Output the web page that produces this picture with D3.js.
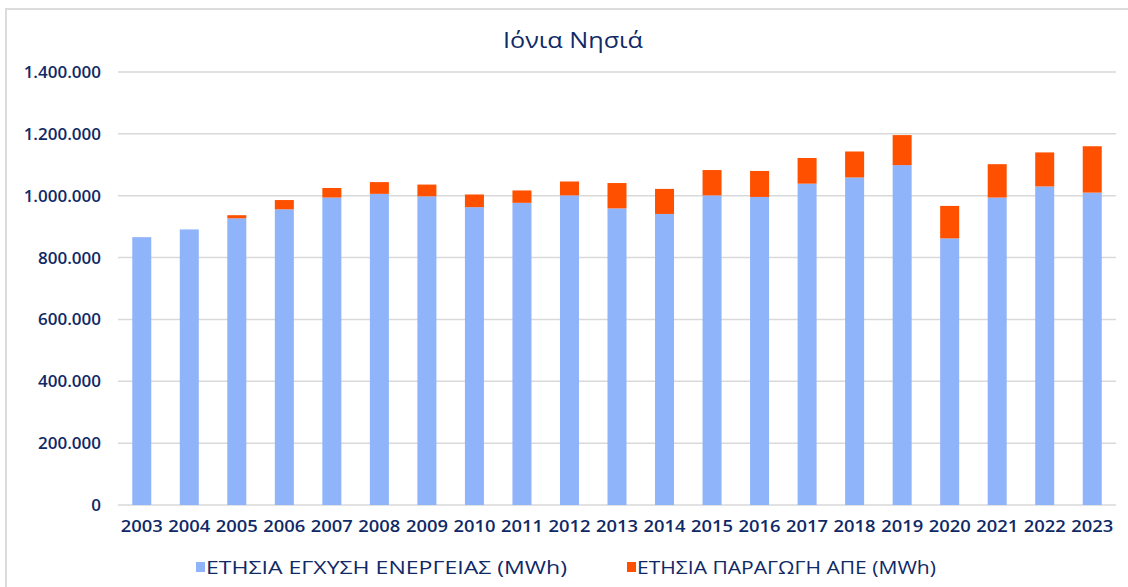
<!DOCTYPE html>
<html>
<head>
<meta charset="utf-8">
<script src="https://cdn.jsdelivr.net/npm/d3@7"></script>
<style>
  body { margin: 0; background: #fff; }
  svg { display: block; font-family: "Open Sans", "Noto Sans", sans-serif; }
</style>
</head>
<body>
<svg id="chart"></svg>
<script>
const years = ["2003","2004","2005","2006","2007","2008","2009","2010","2011","2012","2013",
  "2014","2015","2016","2017","2018","2019","2020","2021","2022","2023"];
const injection = [866000, 891000, 927000, 956000, 994000, 1006000, 998000, 963000, 977000, 1001000, 959000,
  941000, 1001000, 996000, 1039000, 1059000, 1099000, 862000, 994000, 1030000, 1010000];
const resProduction = [0, 0, 10000, 30000, 31000, 38000, 38000, 41000, 40000, 45000, 82000,
  81000, 82000, 84000, 83000, 84000, 97000, 105000, 108000, 110000, 150000];
const yTicks = [0, 200000, 400000, 600000, 800000, 1000000, 1200000, 1400000];
const seriesNames = ["ΕΤΗΣΙΑ ΕΓΧΥΣΗ ΕΝΕΡΓΕΙΑΣ (MWh)", "ΕΤΗΣΙΑ ΠΑΡΑΓΩΓΗ ΑΠΕ (MWh)"];

const width = 1128, height = 587,
  margin = {top: 72, right: 12, bottom: 82, left: 118},
  colors = ["#8fb4fa", "#ff5000"],
  textColor = "#0f2966";

const svg = d3.select("#chart").attr("width", width).attr("height", height);

// frame
svg.append("path")
  .attr("d", `M6,${height} V9 H${width}`)
  .attr("fill", "none").attr("stroke", "#dcdcdc").attr("stroke-width", 2);

const x = d3.scaleBand().domain(years)
  .range([margin.left, width - margin.right]).paddingInner(0.6).paddingOuter(0.3);
const y = d3.scaleLinear().domain([0, 1400000]).range([height - margin.bottom, margin.top]);

const fmt = v => d3.format(",")(v).replace(/,/g, ".");

// grid
svg.append("g").selectAll("line").data(yTicks).join("line")
  .attr("x1", margin.left).attr("x2", width - margin.right)
  .attr("y1", d => y(d)).attr("y2", d => y(d))
  .attr("stroke", "#d9d9d9").attr("stroke-width", 1.5);

svg.append("g").selectAll("text").data(yTicks).join("text")
  .attr("x", 101).attr("y", d => y(d)).attr("dy", "0.35em")
  .attr("text-anchor", "end").attr("fill", textColor)
  .attr("font-size", 17).attr("font-weight", 600)
  .text(fmt);

const rows = years.map((yr, i) => ({year: yr, inj: injection[i], res: resProduction[i]}));
const stack = d3.stack().keys(["inj", "res"])(rows);

svg.append("g").selectAll("g").data(stack).join("g")
  .attr("fill", (d, i) => colors[i])
  .selectAll("rect").data(d => d).join("rect")
  .attr("x", d => x(d.data.year))
  .attr("width", x.bandwidth())
  .attr("y", d => y(d[1]))
  .attr("height", d => y(d[0]) - y(d[1]));

// x labels
svg.append("g").selectAll("text").data(years).join("text")
  .attr("x", d => x(d) + x.bandwidth() / 2).attr("y", 526)
  .attr("dy", "0.35em").attr("text-anchor", "middle")
  .attr("fill", textColor).attr("font-size", 17).attr("font-weight", 600)
  .attr("textLength", 42).attr("lengthAdjust", "spacingAndGlyphs")
  .text(d => d);

// title
svg.append("text").attr("x", 573).attr("y", 40).attr("dy", "0.35em")
  .attr("text-anchor", "middle").attr("fill", textColor)
  .attr("font-size", 22).attr("font-weight", 500)
  .attr("textLength", 140).attr("lengthAdjust", "spacingAndGlyphs")
  .text("Ιόνια Νησιά");

// legend
const legendX = [196, 627], legendLen = [361, 299];
const lg = svg.append("g").selectAll("g").data(seriesNames).join("g")
  .attr("transform", (d, i) => `translate(${legendX[i]},567)`);
lg.append("rect").attr("x", 0).attr("y", -5).attr("width", 9).attr("height", 10)
  .attr("fill", (d, i) => colors[i]);
lg.append("text").attr("x", 10).attr("dy", "0.35em").attr("fill", textColor)
  .attr("font-size", 19)
  .attr("textLength", (d, i) => legendLen[i]).attr("lengthAdjust", "spacingAndGlyphs")
  .text(d => d);
</script>
</body>
</html>
